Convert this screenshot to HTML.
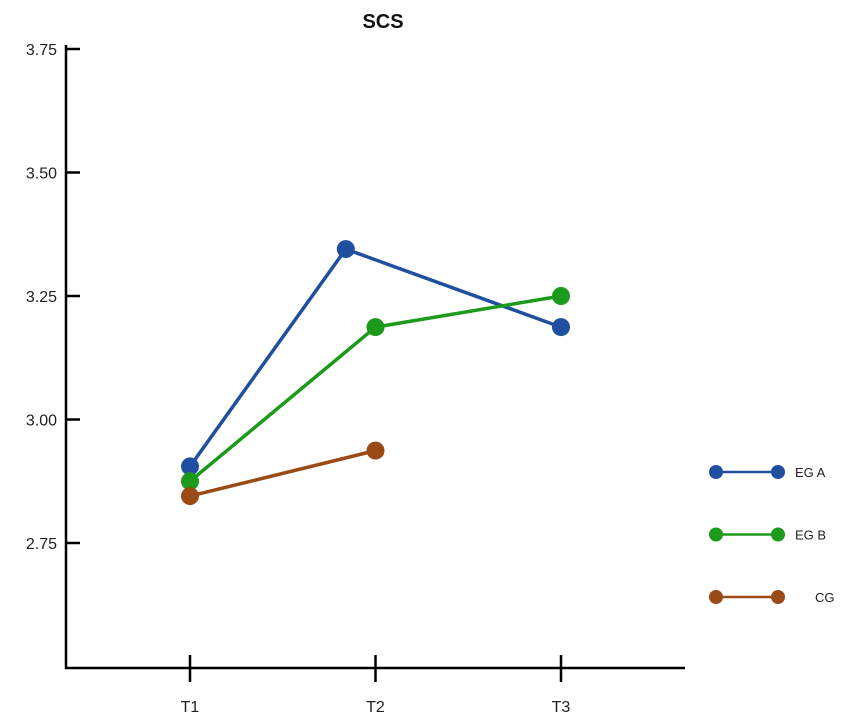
<!DOCTYPE html>
<html><head><meta charset="utf-8"><style>
body{margin:0;background:#fff;}
svg{display:block;font-family:"Liberation Sans",Arial,sans-serif;}
</style></head><body>
<svg id="chart" width="850" height="719"></svg>
<script>
const categories = ["T1","T2","T3"];
const yTicks = [2.75, 3.00, 3.25, 3.50, 3.75];
const yTickLabels = ["2.75","3.00","3.25","3.50","3.75"];
const seriesNames = ["EG A","EG B","CG"];
const egAValues = [2.905, 3.345, 3.187];
const egAPos = [0, 0.84, 2];
const egBValues = [2.875, 3.187, 3.25];
const egBPos = [0, 1, 2];
const cgValues = [2.845, 2.937];
const cgPos = [0, 1];
const colors = ["#1f4f9e","#1c9a1c","#9a4a14"];

const NS="http://www.w3.org/2000/svg";
const svg=document.getElementById('chart');
function el(t,a,p){const e=document.createElementNS(NS,t);for(const k in a)e.setAttribute(k,a[k]);(p||svg).appendChild(e);return e;}
const y=v=>543-(v-2.75)*494;
const x=i=>190+i*185.5;

const title=el('text',{x:383,y:28,'text-anchor':'middle','font-size':20,'font-weight':'bold',fill:'#111'});
title.textContent='SCS';



const yAxis=el('line',{x1:66,y1:45,x2:66,y2:669,stroke:'#000','stroke-width':2.5});


const xAxis=el('line',{x1:65,y1:668,x2:685,y2:668,stroke:'#000','stroke-width':2.5});



yTicks.forEach((v,i)=>{
  const t=el('line',{x1:66,y1:y(v),x2:80,y2:y(v),stroke:'#000','stroke-width':2.5});
  
  
  const l=el('text',{x:57,y:y(v)+6,'text-anchor':'end','font-size':16,fill:'#222'});
  l.textContent=yTickLabels[i];
  
  
});
categories.forEach((c,i)=>{
  const t=el('line',{x1:x(i),y1:655,x2:x(i),y2:682,stroke:'#000','stroke-width':2.5});
  
  
  const l=el('text',{x:x(i),y:712,'text-anchor':'middle','font-size':16,fill:'#222'});
  l.textContent=c;
  
  
});

const series=[[egAValues,egAPos],[egBValues,egBPos],[cgValues,cgPos]];
series.forEach(([vals,pos],s)=>{
  const g=el('g',{});
  
  
  el('polyline',{points:vals.map((v,i)=>x(pos[i])+','+y(v)).join(' '),fill:'none',stroke:colors[s],'stroke-width':3.5},g);
  vals.forEach((v,i)=>{
    const c=el('circle',{cx:x(pos[i]),cy:y(v),r:9,fill:colors[s]},g);
    
    
  });
  const ly=472+s*62.5;
  const lg=el('g',{});
  
  
  el('line',{x1:716,y1:ly,x2:778,y2:ly,stroke:colors[s],'stroke-width':2.5},lg);
  el('circle',{cx:716,cy:ly,r:7,fill:colors[s]},lg);
  el('circle',{cx:778,cy:ly,r:7,fill:colors[s]},lg);
  const t=el('text',{x:s==2?815:795,y:ly+5,'font-size':13,fill:'#222'},lg);
  t.textContent=seriesNames[s];
});
</script>
</body></html>
